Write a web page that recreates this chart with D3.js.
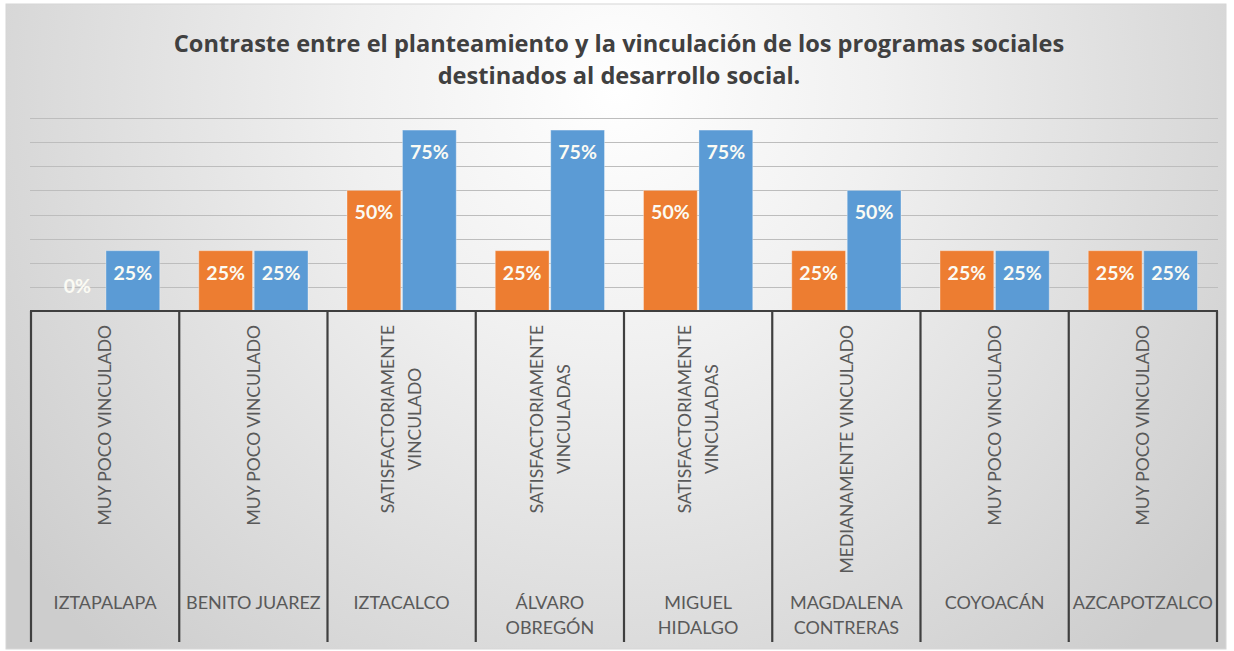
<!DOCTYPE html>
<html>
<head>
<meta charset="utf-8">
<script src="https://cdn.jsdelivr.net/npm/d3@7"></script>
<style>
  html, body { margin: 0; padding: 0; background: #ffffff; }
  svg { display: block; }
</style>
</head>
<body>
<svg id="chart" width="1234" height="651"></svg>
<script>
// ---- data ----
const titleLines = [
  "Contraste entre el planteamiento y la vinculación de los programas sociales",
  "destinados al desarrollo social."
];
const alcaldias = [
  ["IZTAPALAPA"],
  ["BENITO JUAREZ"],
  ["IZTACALCO"],
  ["ÁLVARO", "OBREGÓN"],
  ["MIGUEL", "HIDALGO"],
  ["MAGDALENA", "CONTRERAS"],
  ["COYOACÁN"],
  ["AZCAPOTZALCO"]
];
const vinculacion = [
  ["MUY POCO VINCULADO"],
  ["MUY POCO VINCULADO"],
  ["SATISFACTORIAMENTE", "VINCULADO"],
  ["SATISFACTORIAMENTE", "VINCULADAS"],
  ["SATISFACTORIAMENTE", "VINCULADAS"],
  ["MEDIANAMENTE VINCULADO"],
  ["MUY POCO VINCULADO"],
  ["MUY POCO VINCULADO"]
];
const seriesNames = ["Planteamiento", "Vinculación"];
const planteamiento = [0, 0.25, 0.50, 0.25, 0.50, 0.25, 0.25, 0.25];
const vinculados   = [0.25, 0.25, 0.75, 0.75, 0.75, 0.50, 0.25, 0.25];
const gridValues = [0.1, 0.2, 0.3, 0.4, 0.5, 0.6, 0.7, 0.8];
const seriesColors = ["#ED7D31", "#5B9BD5"];

// ---- layout ----
const svg = d3.select("#chart");
const plot = { left: 31, right: 1217, top: 118, bottom: 311, tableBottom: 642 };

// background gradient
const defs = svg.append("defs");
const rg = defs.append("radialGradient").attr("id", "bg")
  .attr("gradientUnits", "userSpaceOnUse")
  .attr("cx", 617).attr("cy", 90).attr("r", 760);
rg.append("stop").attr("offset", "0%").attr("stop-color", "#ffffff");
rg.append("stop").attr("offset", "35%").attr("stop-color", "#f0f0f0");
rg.append("stop").attr("offset", "100%").attr("stop-color", "#cdcdcd");

svg.append("rect").attr("x", 6).attr("y", 4).attr("width", 1220).attr("height", 645)
  .attr("fill", "url(#bg)").attr("stroke", "#d6d6d6").attr("stroke-width", 1);

// title
svg.append("text")
  .attr("text-anchor", "middle")
  .attr("font-family", "'Open Sans', Lato, sans-serif")
  .attr("font-weight", 700)
  .attr("font-size", 23.6)
  .attr("fill", "#404040")
  .selectAll("tspan").data(titleLines).join("tspan")
  .attr("x", 619).attr("y", (d, i) => 52 + i * 32)
  .text(d => d);

// scales
const idx = d3.range(alcaldias.length);
const x0 = d3.scaleBand().domain(idx).range([plot.left, plot.right]).paddingInner(0).paddingOuter(0);
const bw = x0.bandwidth();
const x1 = d3.scaleBand().domain([0, 1]).range([19.5, bw - 19.5]).paddingInner(0.03).paddingOuter(0);
const y = d3.scaleLinear().domain([0, 0.8]).range([plot.bottom, plot.top]);

// gridlines
svg.append("g").selectAll("line").data(gridValues).join("line")
  .attr("x1", plot.left - 1).attr("x2", plot.right + 1)
  .attr("y1", d => Math.round(y(d)) + 0.5).attr("y2", d => Math.round(y(d)) + 0.5)
  .attr("stroke", "#bdbdbd").attr("stroke-width", 1);

// bars
const rows = idx.map(i => ({ i, vals: [planteamiento[i], vinculados[i]] }));
const groups = svg.append("g").selectAll("g").data(rows).join("g")
  .attr("transform", d => `translate(${x0(d.i)},0)`);

groups.selectAll("rect").data(d => d.vals.map((v, s) => ({ v, s }))).join("rect")
  .attr("x", d => x1(d.s))
  .attr("width", x1.bandwidth())
  .attr("y", d => y(d.v))
  .attr("height", d => y(0) - y(d.v))
  .attr("fill", d => seriesColors[d.s])
  .attr("stroke", "rgba(255,255,255,0.35)").attr("stroke-width", 1);

const fmt = d3.format(".0%");
groups.selectAll("text").data(d => d.vals.map((v, s) => ({ v, s }))).join("text")
  .attr("x", d => x1(d.s) + x1.bandwidth() / 2)
  .attr("y", d => d.v === 0 ? y(0) - 18 : y(d.v) + 29)
  .attr("text-anchor", "middle")
  .attr("font-family", "Lato, 'Open Sans', sans-serif")
  .attr("font-weight", 700)
  .attr("font-size", 19.5)
  .attr("fill", "#fbfbf4")
  .text(d => fmt(d.v));

// axis table lines
const axis = svg.append("g").attr("stroke", "#3f3f3f").attr("stroke-width", 2.2);
axis.append("line")
  .attr("x1", plot.left - 1).attr("x2", plot.right + 1)
  .attr("y1", plot.bottom).attr("y2", plot.bottom);
const boundaries = idx.map(i => x0(i)).concat([plot.right]);
axis.selectAll("line.v").data(boundaries).join("line").attr("class", "v")
  .attr("x1", d => d).attr("x2", d => d)
  .attr("y1", plot.bottom).attr("y2", plot.tableBottom);

// rotated inner labels
const labFont = "Lato, 'Open Sans', sans-serif";
idx.forEach(i => {
  const cx = x0(i) + bw / 2;
  const lines = vinculacion[i];
  const g = svg.append("g").attr("transform", `translate(${cx},325) rotate(-90)`);
  const t = g.selectAll("text").data(lines).join("text")
    .attr("text-anchor", "middle")
    .attr("font-family", labFont)
    .attr("font-size", 17.5)
    .attr("fill", "#595959")
    .attr("dy", "0.36em")
    .attr("y", (d, k) => (k - (lines.length - 1) / 2) * 27)
    .text(d => d);
  let L = 0;
  t.each(function() { L = Math.max(L, this.getComputedTextLength()); });
  t.attr("x", -L / 2);
});

// outer district labels
idx.forEach(i => {
  const cx = x0(i) + bw / 2;
  svg.append("text")
    .attr("text-anchor", "middle")
    .attr("font-family", labFont)
    .attr("font-size", 18)
    .attr("fill", "#595959")
    .selectAll("tspan").data(alcaldias[i]).join("tspan")
    .attr("x", cx)
    .attr("y", (d, k) => 609 + k * 25)
    .text(d => d);
});
</script>
</body>
</html>
